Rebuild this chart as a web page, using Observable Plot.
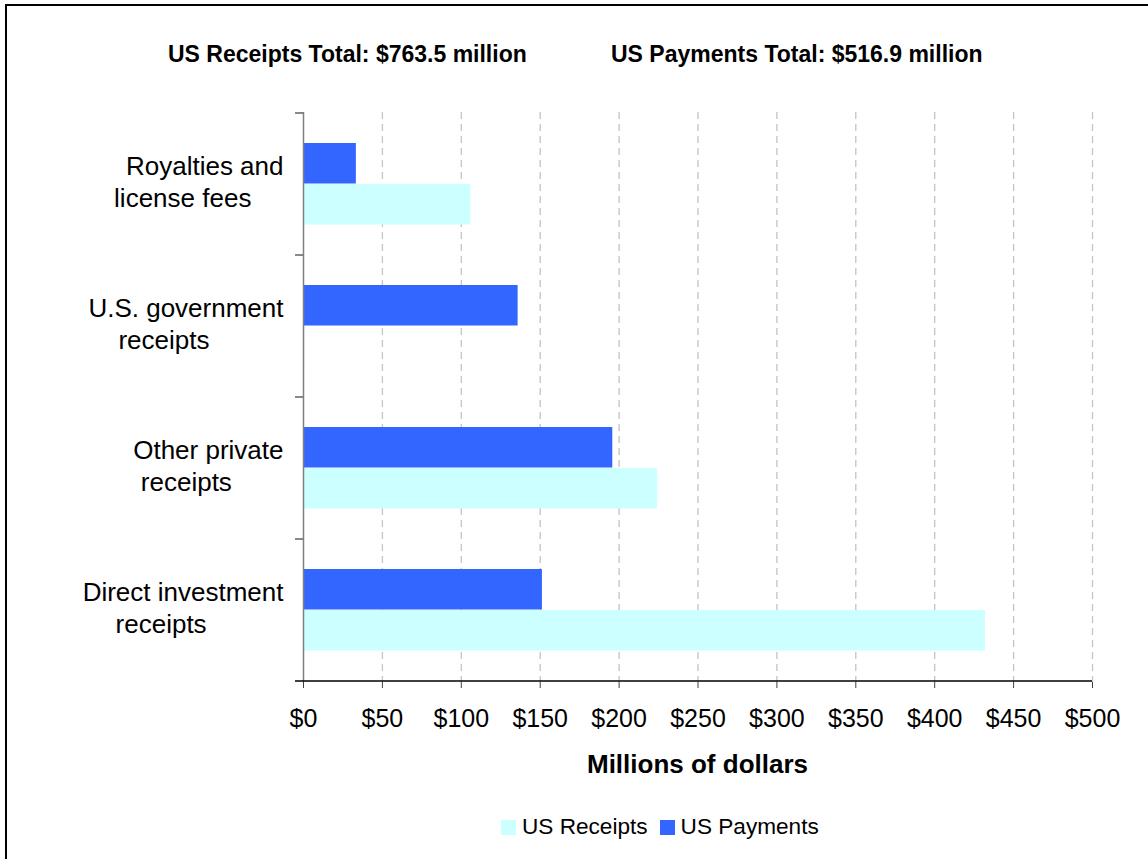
<!DOCTYPE html>
<html>
<head>
<meta charset="utf-8">
<script src="https://cdn.jsdelivr.net/npm/d3@7"></script>
<script src="https://cdn.jsdelivr.net/npm/@observablehq/plot@0.6"></script>
<style>
  html, body { margin: 0; padding: 0; background: #fff; overflow: hidden; }
  #wrap { position: relative; width: 1148px; height: 859px; overflow: hidden; font-family: "Liberation Sans", Arial, sans-serif; color: #000; }
  #frame { position: absolute; left: 5px; top: 4px; width: 1300px; height: 1000px; border: 2px solid #000; box-sizing: border-box; }
  .title { position: absolute; top: 42.5px; font-weight: bold; font-size: 23px; line-height: 23px; white-space: nowrap; }
  #chart { position: absolute; left: 0; top: 0; }
  #xlabel { position: absolute; left: 303px; width: 789px; top: 751px; text-align: center; font-weight: bold; font-size: 26px; line-height: 26px; white-space: nowrap; }
  #legend { position: absolute; left: 501px; top: 816px; display: flex; align-items: center; font-size: 22.6px; line-height: 22px; white-space: nowrap; }
  #legend .sw { width: 15px; height: 15px; display: inline-block; margin-right: 6px; margin-top: 1px; }
  #legend .item { display: flex; align-items: center; margin-right: 12px; }
</style>
</head>
<body>
<div id="wrap">
  <div id="frame"></div>
  <div id="chart"></div>
  <div class="title" id="t1" style="left:168px"></div>
  <div class="title" id="t2" style="left:611px"></div>
  <div id="xlabel"></div>
  <div id="legend"></div>
</div>
<script>
// ---- data ----
const categories = ["Royalties and\nlicense fees", "U.S. government\nreceipts", "Other private\nreceipts", "Direct investment\nreceipts"];
const receipts = [106.0, 0.8, 224.5, 432.2];
const payments = [33.5, 136.0, 196.0, 151.4];
const xTicks = [0, 50, 100, 150, 200, 250, 300, 350, 400, 450, 500];
const seriesNames = ["US Receipts", "US Payments"];
const titles = ["US Receipts Total: $763.5 million", "US Payments Total: $516.9 million"];
const xAxisLabel = "Millions of dollars";

// ---- styles ----
const receiptsColor = "#CCFFFF";
const paymentsColor = "#3366FF";

const rows = categories.map((c, i) => ({category: c, receipts: receipts[i], payments: payments[i]}));

const plot = Plot.plot({
  width: 1148,
  height: 800,
  marginLeft: 303,
  marginRight: 56,
  marginTop: 112,
  marginBottom: 118,
  style: {fontFamily: "'Liberation Sans', Arial, sans-serif", background: "transparent", color: "#000"},
  x: {domain: [xTicks[0], xTicks[xTicks.length - 1]]},
  y: {domain: categories, padding: 0},
  marks: [
    Plot.gridX(xTicks.filter(d => d > 0), {stroke: "#c4c4c4", strokeOpacity: 1, strokeWidth: 1.3, strokeDasharray: "7,5"}),
    Plot.barX(rows, {y: "category", x: "payments", fill: paymentsColor, insetTop: 30, insetBottom: 71.5}),
    Plot.barX(rows, {y: "category", x: "receipts", fill: receiptsColor, insetTop: 71, insetBottom: 30.5}),
    Plot.ruleX([0], {stroke: "#808080", strokeWidth: 1.5}),
    Plot.axisX(xTicks, {tickFormat: d => "$" + d, tickSize: 6, tickPadding: 21, fontSize: 25, stroke: "#404040", fill: "#000", label: null}),
    Plot.axisY({tickSize: 0, tickPadding: 20, fontSize: 26, lineHeight: 1.24, dy: -4, fill: "#000", label: null})
  ]
});

document.getElementById("chart").appendChild(plot);

// boundary ticks on the category axis and the x-axis baseline, via the plot's scales
const ys = plot.scale("y");
const xs = plot.scale("x");
const svg = d3.select(plot);
const g = svg.append("g");
const x0 = xs.apply(xTicks[0]);
const xEnd = xs.apply(xTicks[xTicks.length - 1]);
const bandStarts = categories.map(c => ys.apply(c));
g.selectAll("line.bt").data(bandStarts).join("line")
  .attr("x1", x0 - 8).attr("x2", x0)
  .attr("y1", d => d).attr("y2", d => d)
  .attr("stroke", "#606060").attr("stroke-width", 1.5);
const yBottom = ys.apply(categories[categories.length - 1]) + ys.bandwidth;
g.append("line")
  .attr("x1", x0 - 8).attr("x2", xEnd)
  .attr("y1", yBottom).attr("y2", yBottom)
  .attr("stroke", "#000").attr("stroke-width", 1.5);

// category labels: first line right-aligned, second line centred slightly left (as in the original)
svg.selectAll('g[aria-label="y-axis tick label"] text').each(function () {
  const spans = d3.select(this).selectAll("tspan").nodes();
  if (spans.length < 2) return;
  const w1 = spans[0].getComputedTextLength();
  d3.select(this).attr("text-anchor", "middle");
  d3.select(spans[0]).attr("x", -w1 / 2);
  d3.select(spans[1]).attr("x", -w1 / 2 - 22);
});

// titles, axis label, legend
document.getElementById("t1").textContent = titles[0];
document.getElementById("t2").textContent = titles[1];
document.getElementById("xlabel").textContent = xAxisLabel;
const legend = d3.select("#legend");
[receiptsColor, paymentsColor].forEach((col, i) => {
  const it = legend.append("div").attr("class", "item");
  it.append("span").attr("class", "sw").style("background", col);
  it.append("span").text(seriesNames[i]);
});
</script>
</body>
</html>
